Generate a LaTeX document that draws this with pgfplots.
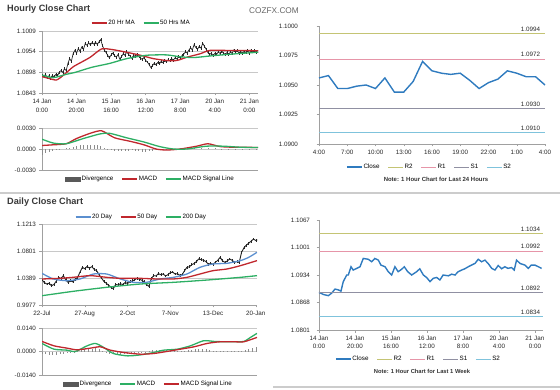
\documentclass[border=0pt]{standalone}
\usepackage{pgfplots}
\pgfplotsset{compat=1.18}
\usepackage{fontspec}
\setmainfont{Liberation Sans}
\definecolor{axgray}{HTML}{A0A0A0}
\definecolor{gridgray}{HTML}{C8C8C8}
\definecolor{mared}{HTML}{C0272D}
\definecolor{magreen}{HTML}{2DAF64}
\definecolor{closeblue}{HTML}{2F7BBF}
\definecolor{dayblue}{HTML}{5B8FCF}
\definecolor{rtwo}{HTML}{C4C474}
\definecolor{rone}{HTML}{E695A8}
\definecolor{sone}{HTML}{9090A2}
\definecolor{stwo}{HTML}{7FC3DC}
\definecolor{divgray}{HTML}{8C8C8C}
\newcommand\tlfont{\fontsize{6.3}{7.5}\selectfont}
\pgfplotsset{
  panel/.style={
    scale only axis,
    axis x line*=bottom, axis y line*=left,
    axis line style={draw=axgray, line width=0.6bp},
    every tick/.style={draw=axgray, line width=0.5bp},
    tick align=outside, major tick length=2.5bp,
    tick label style={font=\tlfont, text=black!85},
    /pgf/number format/assume math mode=true,
    scaled ticks=false,
    y tick label style={/pgf/number format/.cd, fixed, fixed zerofill, precision=4, /tikz/.cd},
    major grid style={draw=gridgray, line width=0.5bp},
    legend style={draw=none, fill=none, font=\tlfont, legend columns=-1, anchor=center,
      /tikz/every even column/.append style={column sep=7bp}, inner sep=0pt, nodes={inner sep=1bp}},
    legend image code/.code={\draw[#1] (0bp,0bp) -- (15bp,0bp);},
  },
  divleg/.style={legend image code/.code={\fill[black!65] (0bp,-2bp) rectangle (15bp,2bp);}},
}
\begin{document}
\begin{tikzpicture}
\path[use as bounding box] (0,0) rectangle (560bp,390bp);
% separators
\draw[black!20, line width=2bp] (0,197bp) -- (560bp,197bp);
\draw[black!20, line width=2bp] (273bp,3bp) -- (560bp,3bp);
% titles
\node[anchor=west, font=\fontsize{9.2}{10}\selectfont\bfseries, text=black!78, inner sep=0] at (7bp,380.5bp) {Hourly Close Chart};
\node[anchor=west, font=\fontsize{8.3}{10}\selectfont, text=black!60, inner sep=0] at (249bp,379bp) {COZFX.COM};
\node[anchor=west, font=\fontsize{9.2}{10}\selectfont\bfseries, text=black!78, inner sep=0] at (7bp,188bp) {Daily Close Chart};
\node[font=\fontsize{6}{7}\selectfont\bfseries, text=black!80, inner sep=0] at (436bp,211bp) {Note: 1 Hour Chart for Last 24 Hours};
\node[font=\fontsize{5.8}{7}\selectfont\bfseries, text=black!80, inner sep=0] at (422bp,19bp) {Note: 1 Hour Chart for Last 1 Week};

% ===== Panel A: hourly close
\begin{axis}[panel, at={(42bp,359bp)}, anchor=north west, width=216bp, height=62bp,
  xmin=0, xmax=125, ymin=1.0843, ymax=1.1009,
  ytick={1.0843,1.0898,1.0954,1.1009}, ymajorgrids,
  xtick={0,20,40,60,80,100,120},
  xticklabels={{14 Jan\\0:00},{14 Jan\\20:00},{15 Jan\\16:00},{16 Jan\\12:00},{17 Jan\\8:00},{20 Jan\\4:00},{21 Jan\\0:00}},
  x tick label style={align=center, font=\fontsize{6.3}{9.5}\selectfont},
  legend style={at={(0.458,1.129)}}]
\addplot[black!85, line width=0.7bp, forget plot,
  error bars/.cd, y dir=both, y fixed=0.0004, error mark=none,
  error bar style={black!85, line width=0.45bp}] table[row sep=\\, header=false, x index=0, y index=1] {
0 1.0891\\ 1 1.0886\\ 2 1.0893\\ 3 1.0884\\ 4 1.0889\\ 5 1.0883\\ 6 1.0890\\ 7 1.0886\\ 8 1.0893\\ 9 1.0889\\ 10 1.0899\\
11 1.0903\\ 12 1.0898\\ 13 1.0908\\ 14 1.0903\\ 15 1.0922\\ 16 1.0935\\ 17 1.0928\\ 18 1.0948\\ 19 1.0957\\ 20 1.0950\\
21 1.0962\\ 22 1.0955\\ 23 1.0966\\ 24 1.0960\\ 25 1.0975\\ 26 1.0971\\ 27 1.0977\\ 28 1.0972\\ 29 1.0978\\ 30 1.0974\\
31 1.0979\\ 32 1.0973\\ 33 1.0980\\ 34 1.0986\\ 35 1.0970\\ 36 1.0958\\ 37 1.0952\\ 38 1.0944\\ 39 1.0937\\ 40 1.0945\\
41 1.0950\\ 42 1.0943\\ 43 1.0939\\ 44 1.0946\\ 45 1.0934\\ 46 1.0940\\ 47 1.0948\\ 48 1.0944\\ 49 1.0953\\ 50 1.0947\\
51 1.0942\\ 52 1.0936\\ 53 1.0944\\ 54 1.0940\\ 55 1.0947\\ 56 1.0941\\ 57 1.0936\\ 58 1.0933\\ 59 1.0938\\ 60 1.0930\\
61 1.0926\\ 62 1.0919\\ 63 1.0911\\ 64 1.0917\\ 65 1.0923\\ 66 1.0918\\ 67 1.0925\\ 68 1.0921\\ 69 1.0928\\ 70 1.0924\\
71 1.0930\\ 72 1.0926\\ 73 1.0932\\ 74 1.0929\\ 75 1.0935\\ 76 1.0931\\ 77 1.0937\\ 78 1.0934\\ 79 1.0940\\ 80 1.0937\\
81 1.0943\\ 82 1.0947\\ 83 1.0953\\ 84 1.0950\\ 85 1.0958\\ 86 1.0964\\ 87 1.0958\\ 88 1.0972\\ 89 1.0965\\ 90 1.0960\\
91 1.0968\\ 92 1.0963\\ 93 1.0976\\ 94 1.0968\\ 95 1.0960\\ 96 1.0951\\ 97 1.0946\\ 98 1.0950\\ 99 1.0943\\ 100 1.0949\\
101 1.0946\\ 102 1.0953\\ 103 1.0949\\ 104 1.0955\\ 105 1.0950\\ 106 1.0946\\ 107 1.0951\\ 108 1.0945\\ 109 1.0953\\ 110 1.0949\\
111 1.0958\\ 112 1.0952\\ 113 1.0956\\ 114 1.0950\\ 115 1.0954\\ 116 1.0948\\ 117 1.0955\\ 118 1.0951\\ 119 1.0956\\ 120 1.0950\\
121 1.0958\\ 122 1.0953\\ 123 1.0956\\ 124 1.0951\\ 125 1.0953\\
};
\addplot[mared, line width=1.3bp, smooth, tension=0.4] coordinates {
(0,1.0887)(4,1.0882)(8.5,1.0878)(13,1.0893)(18,1.0913)(23,1.0926)(28,1.0939)(34.5,1.0961)(41,1.0959)(49,1.0952)(57,1.0944)(64.5,1.0935)(72,1.0930)(78,1.0930)(84,1.0939)(91.5,1.0948)(97,1.0957)(107,1.0957)(115,1.0957)(125,1.0956)};
\addlegendentry{20 Hr MA}
\addplot[magreen, line width=1.3bp, smooth, tension=0.4] coordinates {
(0,1.0891)(6.5,1.0884)(14,1.0893)(19,1.0898)(29,1.0912)(39,1.0922)(49,1.0935)(60.5,1.0944)(72,1.0945)(80,1.0940)(88,1.0938)(99,1.0943)(107,1.0946)(115,1.0949)(125,1.0952)};
\addlegendentry{50 Hrs MA}
\end{axis}

% ===== Panel B: hourly MACD
\begin{axis}[panel, at={(42bp,262bp)}, anchor=north west, width=216bp, height=42bp,
  xmin=0, xmax=125, ymin=-0.003, ymax=0.003,
  ytick={-0.003,0,0.003}, ymajorgrids, xtick=\empty,
  legend style={at={(0.5,-0.214)}}]
\addplot[ycomb, draw=divgray, line width=0.6bp, divleg] coordinates {
(0,-0.0008)(2,-0.0006)(4,-0.0004)(6,-0.0003)(8,-0.0002)(10,-0.0001)(14,0.0001)(16,0.0002)(18,0.0003)(20,0.0004)(22,0.0005)(24,0.0005)(26,0.0006)(28,0.0006)(30,0.0006)(32,0.0005)(34,0.0004)(36,0.0002)(38,-0.0001)(40,-0.0002)(42,-0.0003)(44,-0.0003)(46,-0.0003)(48,-0.0003)(50,-0.0003)(52,-0.0002)(54,-0.0003)(56,-0.0003)(58,-0.0004)(60,-0.0004)(62,-0.0003)(64,-0.0003)(66,-0.0002)(68,-0.0001)(70,-0.0001)(72,-0.0001)(80,0.0001)(84,0.0001)(88,0.0001)(92,0.0002)(96,0.0002)(100,0.0001)(104,-0.0001)(108,-0.0001)(112,0.00005)(116,0.00005)(120,0.00005)(124,0.00005)};
\addlegendentry{Divergence}
\addplot[mared, line width=1.3bp, smooth, tension=0.4] coordinates {
(0,0.0005)(6.5,0.0006)(14,0.00075)(20,0.0015)(28,0.00225)(34.5,0.0026)(42,0.0016)(51,0.0011)(59,0.0006)(66,0.0)(72,-0.00015)(80,0.0)(89.5,0.0004)(96,0.00075)(103,0.00035)(111,0.00025)(118.5,0.00025)(125,0.0002)};
\addlegendentry{MACD}
\addplot[magreen, line width=1.3bp, smooth, tension=0.4] coordinates {
(0,0.0014)(6.5,0.00085)(14,0.00075)(24,0.0015)(33.5,0.00215)(39,0.00225)(49,0.0016)(59,0.001)(68,0.00035)(76,0.0)(84,0.0)(95,0.0004)(105,0.0004)(115,0.00025)(125,0.0002)};
\addlegendentry{MACD  Signal Line}
\end{axis}

% ===== Panel C: last 24 hours
\begin{axis}[panel, at={(319bp,364bp)}, anchor=north west, width=226bp, height=118bp,
  xmin=0, xmax=24, ymin=1.09, ymax=1.1, clip=false,
  ytick={1.09,1.0925,1.095,1.0975,1.1},
  y tick label style={xshift=-15bp},
  xtick={0,3,6,9,12,15,18,21,24},
  xticklabels={4:00,7:00,10:00,13:00,16:00,19:00,22:00,1:00,4:00},
  legend style={at={(0.487,-0.195)}}]
\addplot[closeblue, line width=1.4bp] coordinates {
(0,1.0956)(1,1.0958)(2,1.0947)(3,1.0947)(4,1.0949)(5,1.0950)(6,1.0947)(7,1.0956)(8,1.0944)(9,1.0944)(10,1.0953)(11,1.0970)(12,1.0962)(13,1.0960)(14,1.0959)(15,1.0960)(16,1.0954)(17,1.0947)(18,1.0952)(19,1.0955)(20,1.0962)(21,1.0960)(22,1.0957)(23,1.0957)(24,1.0950)};
\addlegendentry{Close}
\addplot[rtwo, line width=1bp] coordinates {(0,1.0994)(24,1.0994)} node[pos=1, anchor=south east, font=\tlfont, text=black!85, inner sep=1.5bp, xshift=-3bp] {1.0994};
\addlegendentry{R2}
\addplot[rone, line width=1bp] coordinates {(0,1.0972)(24,1.0972)} node[pos=1, anchor=south east, font=\tlfont, text=black!85, inner sep=1.5bp, xshift=-3bp] {1.0972};
\addlegendentry{R1}
\addplot[sone, line width=1bp] coordinates {(0,1.0930)(24,1.0930)} node[pos=1, anchor=south east, font=\tlfont, text=black!85, inner sep=1.5bp, xshift=-3bp] {1.0930};
\addlegendentry{S1}
\addplot[stwo, line width=1bp] coordinates {(0,1.0910)(24,1.0910)} node[pos=1, anchor=south east, font=\tlfont, text=black!85, inner sep=1.5bp, xshift=-3bp] {1.0910};
\addlegendentry{S2}
\end{axis}

% ===== Panel D: daily close
\begin{axis}[panel, at={(42bp,166bp)}, anchor=north west, width=215bp, height=81bp,
  xmin=0, xmax=181, ymin=0.9977, ymax=1.1213,
  ytick={0.9977,1.0389,1.0801,1.1213}, ymajorgrids,
  xtick={0,36,72,108,144,180},
  xticklabels={22-Jul,27-Aug,2-Oct,7-Nov,13-Dec,20-Jan},
  legend style={at={(0.46,1.086)}}]
\addplot[black!85, line width=0.9bp, forget plot,
  error bars/.cd, y dir=both, y fixed=0.0022, error mark=none,
  error bar style={black!85, line width=0.5bp}] coordinates {
(0,1.0358)(2,1.0320)(4,1.0297)(6,1.0310)(8,1.0270)(10,1.0290)(12,1.0340)(14,1.0399)(16,1.0380)(18,1.0425)(20,1.0360)(22,1.0323)(24,1.0345)(26,1.0330)(28,1.0370)(30,1.0399)(32,1.0480)(34,1.0552)(36,1.0530)(38,1.0565)(40,1.0540)(42,1.0562)(44,1.0520)(46,1.0501)(48,1.0440)(50,1.0390)(52,1.0340)(54,1.0310)(56,1.0280)(58,1.0250)(60,1.0225)(62,1.0290)(64,1.0285)(66,1.0300)(68,1.0290)(70,1.0320)(72,1.0305)(74,1.0330)(76,1.0345)(78,1.0360)(80,1.0385)(82,1.0370)(84,1.0355)(86,1.0330)(88,1.0290)(90,1.0260)(92,1.0380)(94,1.0425)(96,1.0420)(98,1.0455)(100,1.0440)(102,1.0450)(104,1.0420)(106,1.0440)(108,1.0470)(110,1.0480)(112,1.0450)(114,1.0455)(116,1.0430)(118,1.0440)(120,1.0500)(122,1.0552)(124,1.0560)(126,1.0590)(128,1.0610)(130,1.0640)(132,1.0680)(134,1.0670)(136,1.0660)(138,1.0640)(140,1.0600)(142,1.0610)(144,1.0600)(146,1.0628)(148,1.0660)(150,1.0704)(152,1.0650)(154,1.0628)(156,1.0650)(158,1.0679)(160,1.0660)(162,1.0628)(164,1.0640)(166,1.0625)(168,1.0781)(170,1.0850)(172,1.0890)(174,1.0920)(176,1.0950)(178,1.0984)(180,1.0960)(181,1.0969)};
\addplot[dayblue, line width=1.3bp, smooth, tension=0.4] coordinates {
(0,1.0460)(9.5,1.0374)(21,1.0348)(32,1.0374)(43.3,1.0450)(54.5,1.0450)(66,1.0374)(77,1.0323)(88,1.0323)(99.4,1.0374)(110.7,1.0399)(122,1.0450)(133,1.0552)(144,1.0603)(155.6,1.0613)(167,1.0654)(174,1.0704)(181,1.0781)};
\addlegendentry{20 Day}
\addplot[mared, line width=1.3bp, smooth, tension=0.4] coordinates {
(0,1.0374)(15,1.0384)(26,1.0399)(40.5,1.0425)(54.5,1.0399)(66,1.0384)(82.6,1.0384)(96.6,1.0374)(110.7,1.0374)(122,1.0399)(133,1.0450)(144,1.0501)(155.6,1.0526)(167,1.0577)(181,1.0654)};
\addlegendentry{50 Day}
\addplot[magreen, line width=1.3bp, smooth, tension=0.4] coordinates {
(0,1.0119)(26.4,1.0186)(54.5,1.0247)(82.6,1.0297)(110.7,1.0323)(139,1.0358)(167,1.0399)(181,1.0425)};
\addlegendentry{200 Day}
\end{axis}

% ===== Panel E: daily MACD
\begin{axis}[panel, at={(42bp,62bp)}, anchor=north west, width=215bp, height=47bp,
  xmin=0, xmax=181, ymin=-0.014, ymax=0.014,
  ytick={-0.014,0,0.014}, ymajorgrids, xtick=\empty,
  legend style={at={(0.493,-0.19)}}]
\addplot[ycomb, draw=divgray, line width=0.6bp, divleg] coordinates {
(0,-0.0012)(3,-0.0016)(6,-0.0019)(9,-0.002)(12,-0.0018)(15,-0.0014)(18,-0.0012)(21,-0.0011)(24,-0.001)(27,-0.0008)(30,0.0004)(33,0.0008)(36,0.0012)(39,0.0014)(42,0.0016)(45,0.0018)(48,0.0012)(51,0.0004)(54,-0.0006)(57,-0.0012)(60,-0.0016)(63,-0.0018)(66,-0.0018)(69,-0.0016)(72,-0.0014)(75,-0.001)(78,-0.0008)(81,-0.0006)(84,-0.0004)(87,-0.0002)(90,0.0002)(93,0.0006)(96,0.0008)(99,0.0008)(102,0.0008)(105,0.0008)(108,0.0004)(111,0.0002)(114,0.0001)(117,0.0002)(120,0.0004)(123,0.0006)(126,0.0008)(129,0.0012)(132,0.0014)(135,0.0016)(138,0.0014)(141,0.0008)(144,0.0004)(147,0.0002)(150,0.0001)(153,0.0001)(156,0.0001)(159,0.0001)(162,0.0001)(165,0.0002)(168,0.0004)(171,0.0008)(174,0.0014)(177,0.0018)(180,0.0024)};
\addlegendentry{Divergence}
\addplot[magreen, line width=1.3bp, smooth, tension=0.4] coordinates {
(0,0.0048)(10,0.0014)(21,0.0008)(28,0.0)(38,0.0034)(45,0.0048)(52,0.0024)(60,-0.0012)(72,-0.0026)(83,-0.002)(94,-0.0006)(102.5,0.0008)(114,0.0014)(125,0.0034)(136,0.0064)(145,0.006)(153,0.0058)(161.5,0.0058)(170,0.006)(175.5,0.0084)(181,0.0108)};
\addlegendentry{MACD}
\addplot[mared, line width=1.3bp, smooth, tension=0.4] coordinates {
(0,0.006)(10,0.0034)(21,0.002)(29.5,0.001)(40.7,0.002)(49,0.0028)(57.6,0.0008)(69,-0.0006)(83,-0.0016)(94,-0.0012)(105,0)(116.6,0.0014)(128,0.0028)(139,0.0048)(150,0.0058)(161.5,0.0058)(170,0.0058)(181,0.0084)};
\addlegendentry{MACD Signal Line}
\end{axis}

% ===== Panel F: last 1 week
\begin{axis}[panel, at={(319bp,170bp)}, anchor=north west, width=224bp, height=110bp,
  xmin=0, xmax=124.5, ymin=1.0801, ymax=1.1067, clip=false,
  ytick={1.0801,1.0868,1.0934,1.1001,1.1067},
  y tick label style={xshift=-3bp},
  xtick={0,20,40,60,80,100,120},
  xticklabels={{14 Jan\\0:00},{14 Jan\\20:00},{15 Jan\\16:00},{16 Jan\\12:00},{17 Jan\\8:00},{20 Jan\\4:00},{21 Jan\\0:00}},
  x tick label style={align=center, font=\fontsize{6.3}{8}\selectfont},
  legend style={at={(0.442,-0.264)}}]
\addplot[closeblue, line width=1.4bp] coordinates {
(0,1.0892)(2.4,1.0887)(5.2,1.0884)(7,1.0890)(8.9,1.0900)(10.7,1.0898)(12.2,1.0895)(13.5,1.0918)(15.4,1.0934)(16.3,1.0934)(17.8,1.0954)(19,1.0946)(21,1.0950)(22.8,1.0954)(24.6,1.0974)(27.4,1.0972)(29.3,1.0966)(31,1.0974)(33,1.0970)(34.4,1.0958)(36.7,1.0954)(38.5,1.0942)(40.4,1.0934)(42.2,1.0954)(44,1.0942)(46,1.0948)(47.4,1.0954)(49.3,1.0942)(51.5,1.0934)(54.3,1.0942)(56,1.0949)(58,1.0934)(59.8,1.0928)(61.7,1.0918)(63.5,1.0926)(65.4,1.0928)(67.2,1.0922)(69,1.0934)(71.9,1.0932)(73.7,1.0936)(75.6,1.0934)(77.4,1.0942)(79.3,1.0946)(81,1.0949)(83,1.0954)(84.8,1.0958)(86.7,1.0962)(88.5,1.0972)(90.4,1.0966)(92.2,1.0970)(94,1.0962)(96,1.0950)(97.8,1.0946)(99.6,1.0957)(101.5,1.0949)(103.3,1.0954)(105,1.0950)(107,1.0952)(108.5,1.0946)(109.8,1.0970)(111.7,1.0962)(114.4,1.0958)(116.3,1.0950)(118,1.0958)(120,1.0958)(121.9,1.0954)(123.7,1.0950)};
\addlegendentry{Close}
\addplot[rtwo, line width=1bp] coordinates {(0,1.1034)(124.5,1.1034)} node[pos=1, anchor=south east, font=\tlfont, text=black!85, inner sep=1.5bp, xshift=-1bp] {1.1034};
\addlegendentry{R2}
\addplot[rone, line width=1bp] coordinates {(0,1.0992)(124.5,1.0992)} node[pos=1, anchor=south east, font=\tlfont, text=black!85, inner sep=1.5bp, xshift=-1bp] {1.0992};
\addlegendentry{R1}
\addplot[sone, line width=1bp] coordinates {(0,1.0892)(124.5,1.0892)} node[pos=1, anchor=south east, font=\tlfont, text=black!85, inner sep=1.5bp, xshift=-1bp] {1.0892};
\addlegendentry{S1}
\addplot[stwo, line width=1bp] coordinates {(0,1.0834)(124.5,1.0834)} node[pos=1, anchor=south east, font=\tlfont, text=black!85, inner sep=1.5bp, xshift=-1bp] {1.0834};
\addlegendentry{S2}
\end{axis}
\end{tikzpicture}
\end{document}
